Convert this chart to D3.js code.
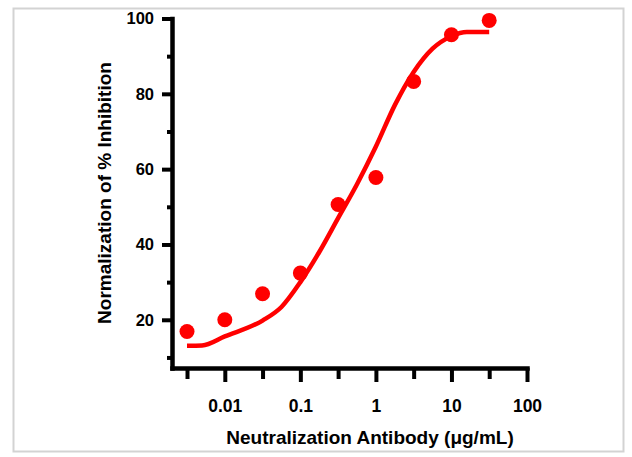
<!DOCTYPE html>
<html>
<head>
<meta charset="utf-8">
<script src="https://cdn.jsdelivr.net/npm/d3@7"></script>
<style>
  body { margin: 0; background: #fff; }
  svg text { font-family: "Liberation Sans", Arial, sans-serif; font-weight: bold; fill: #000; }
</style>
</head>
<body>
<svg id="chart" width="632" height="457"></svg>
<script>
// measured points (ug/mL vs normalized % inhibition)
var doses = [0.00316, 0.01, 0.0316, 0.1, 0.316, 1, 3.16, 10, 31.6];
var inhibition = [16.9, 20, 26.9, 32.4, 50.6, 57.8, 83.3, 95.7, 99.5];

// fitted curve
var fitDoses = [0.00316, 0.005, 0.01, 0.0316, 0.0562, 0.1, 0.178, 0.316, 0.562, 1, 1.78, 3.16, 5.62, 10, 16, 31.6];
var fitValues = [13.1, 13.2, 15.6, 19.8, 23.4, 30, 38, 47, 56, 66, 77, 85.8, 92, 95.3, 96.4, 96.4];

var xMajor = [0.01, 0.1, 1, 10, 100];
var xMinor = [0.00316, 0.0316, 0.316, 3.16, 31.6];
var xLabels = ["0.01", "0.1", "1", "10", "100"];
var yMajor = [20, 40, 60, 80, 100];
var yMinor = [10, 30, 50, 70, 90];

var svg = d3.select("#chart");

// light frame round the figure
svg.append("rect")
  .attr("x", 13.5).attr("y", 8.5)
  .attr("width", 610).attr("height", 443)
  .attr("fill", "none")
  .attr("stroke", "#d3d3d3")
  .attr("stroke-width", 2);

var x = d3.scaleLog().domain([0.002, 100]).range([172, 527]);
var y = d3.scaleLinear().domain([7.2, 100]).range([368, 18.5]);

// y axis
var yAxis = svg.append("g").attr("transform", "translate(172,0)");
yAxis.call(d3.axisLeft(y).tickValues(yMajor).tickSize(10).tickSizeOuter(0).tickPadding(8));
yAxis.append("g").call(d3.axisLeft(y).tickValues(yMinor).tickSize(5).tickFormat(""))
  .select(".domain").remove();
yAxis.selectAll(".tick text").attr("font-size", 16.5);

// x axis
var xAxis = svg.append("g").attr("transform", "translate(0,368)");
xAxis.call(d3.axisBottom(x).tickValues(xMajor).tickSize(14).tickSizeOuter(0).tickPadding(18)
  .tickFormat(function(d, i) { return xLabels[i]; }));
xAxis.append("g").call(d3.axisBottom(x).tickValues(xMinor).tickSize(11).tickFormat(""))
  .select(".domain").remove();
xAxis.selectAll(".tick text").attr("font-size", 17.5);

svg.selectAll(".domain").attr("stroke", "#000").attr("stroke-width", 4.5).attr("stroke-linecap", "square");
svg.selectAll(".tick line").attr("stroke", "#000").attr("stroke-width", 4);
svg.selectAll(".tick text").attr("font-family", "Liberation Sans, Arial, sans-serif")
  .attr("font-weight", "bold").attr("fill", "#000");

// fit line
var line = d3.line()
  .curve(d3.curveMonotoneX)
  .x(function(d, i) { return x(fitDoses[i]); })
  .y(function(d) { return y(d); });

svg.append("path")
  .datum(fitValues)
  .attr("d", line)
  .attr("fill", "none")
  .attr("stroke", "#ff0000")
  .attr("stroke-width", 4.5)
  .attr("stroke-linejoin", "round");

// data points
svg.selectAll("circle.pt")
  .data(inhibition)
  .enter()
  .append("circle")
  .attr("class", "pt")
  .attr("cx", function(d, i) { return x(doses[i]); })
  .attr("cy", function(d) { return y(d); })
  .attr("r", 7.5)
  .attr("fill", "#ff0000");

// axis titles
svg.append("text")
  .attr("x", 370).attr("y", 444)
  .attr("text-anchor", "middle")
  .attr("font-size", 19)
  .text("Neutralization Antibody (\u03bcg/mL)");

svg.append("text")
  .attr("transform", "translate(111,193) rotate(-90)")
  .attr("text-anchor", "middle")
  .attr("font-size", 19)
  .text("Normalization of % Inhibition");
</script>
</body>
</html>
